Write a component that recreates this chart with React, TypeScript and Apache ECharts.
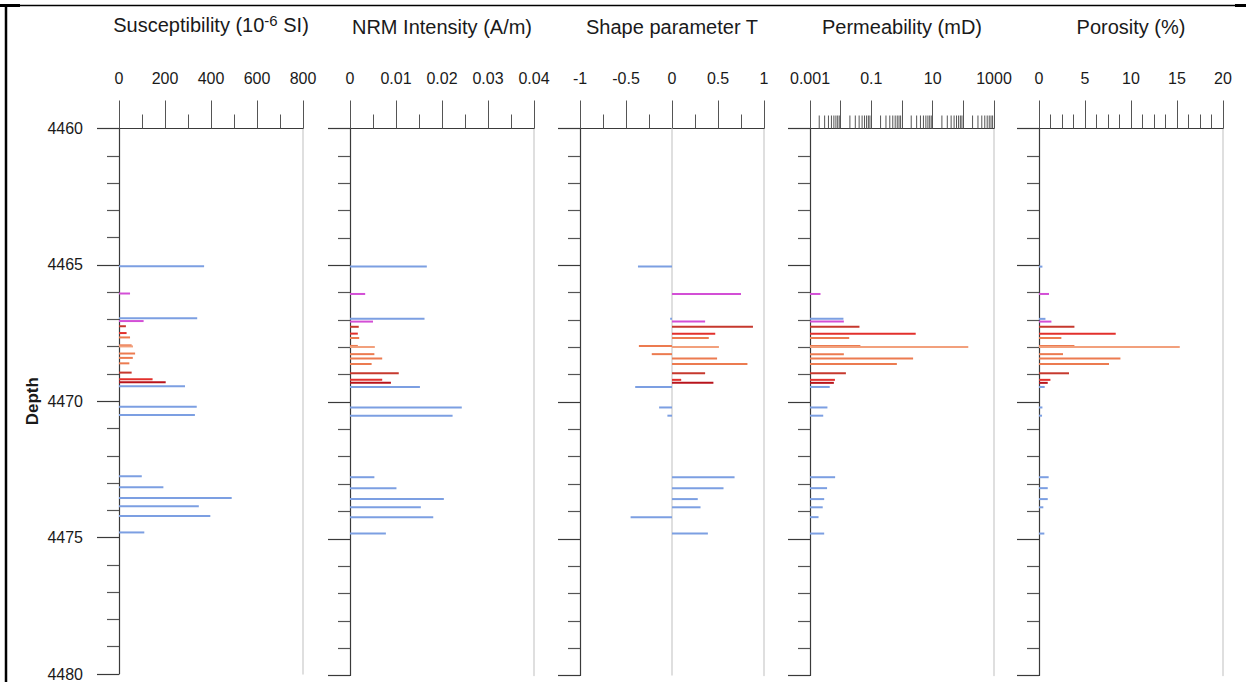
import React, { useEffect, useRef } from 'react';
import * as echarts from 'echarts';

// Sample depths (m) and the colour group of each sample
const depths = [4465.05, 4466.05, 4466.96, 4467.06, 4467.25, 4467.5, 4467.66, 4467.95, 4467.99, 4468.25, 4468.41, 4468.61, 4468.95, 4469.19, 4469.3, 4469.45, 4470.2, 4470.5, 4472.75, 4473.15, 4473.55, 4473.85, 4474.21, 4474.81];
const groups = ['blue', 'magenta', 'blue', 'magenta', 'darkred', 'red', 'orange', 'orange', 'lightorange', 'orange', 'orange', 'orange', 'darkred', 'red', 'crimson', 'blue', 'blue', 'blue', 'blue', 'blue', 'blue', 'blue', 'blue', 'blue'];

// Panel values
const susceptibility = [370, 48, 340, 107, 30, 33, 48, 55, 61, 70, 60, 45, 55, 146, 203, 287, 338, 330, 99, 193, 490, 347, 397, 110];
const nrm = [0.0167, 0.0033, 0.0162, 0.005, 0.0019, 0.0017, 0.002, 0.0017, 0.0054, 0.0053, 0.007, 0.0047, 0.0106, 0.007, 0.0089, 0.0152, 0.0243, 0.0223, 0.0053, 0.0101, 0.0204, 0.0154, 0.0181, 0.0078];
const shapeT = [-0.37, 0.75, -0.02, 0.36, 0.88, 0.47, 0.4, -0.36, 0.51, -0.22, 0.49, 0.82, 0.36, 0.1, 0.45, -0.4, -0.14, -0.05, 0.68, 0.56, 0.28, 0.31, -0.45, 0.39];
const permeability = [null, 0.0022, 0.0123, 0.0127, 0.041, 2.8, 0.019, 0.044, 145, 0.0127, 2.3, 0.68, 0.0148, 0.0065, 0.006, 0.0044, 0.0037, 0.0027, 0.0066, 0.0036, 0.0029, 0.0026, 0.0019, 0.0029];
const porosity = [0.37, 1.09, 0.7, 1.35, 3.85, 8.34, 2.43, 3.85, 15.3, 2.61, 8.85, 7.61, 3.26, 1.24, 0.95, 0.62, 0.37, 0.33, 1.05, 0.95, 0.95, 0.47, null, 0.58];

const titles = ['Susceptibility (10{sup|-6}{t| SI)}', 'NRM Intensity (A/m)', 'Shape parameter T', 'Permeability (mD)', 'Porosity (%)'];
const depthMin = 4460;
const depthMax = 4480;

const groupColors: Record<string, string> = {
  blue: '#7c9fe2',
  magenta: '#d34fd6',
  darkred: '#c6392e',
  red: '#e2302c',
  crimson: '#b8141c',
  orange: '#ec7b50',
  lightorange: '#f2a07c',
};

const FONT = '"Liberation Sans", Arial, Helvetica, sans-serif';
const TEXT = '#1a1a1a';
const AXIS = '#3a3a3a';
const TICK = '#555555';
const EDGE = '#d4d4d4';

const panelLefts = [119, 350, 580, 810, 1039];
const panelWidth = 184;
const gridTop = 128.5;
const gridHeight = 547;

export default function App() {
  const ref = useRef<HTMLDivElement>(null);
  useEffect(() => {
    if (!ref.current) return;
    const chart = echarts.init(ref.current, null, { renderer: 'svg' });

    const valuesList = [susceptibility, nrm, shapeT, permeability, porosity];
    const bases = [0, 0, 0, 0.001, 0];

    const xAxisCommon = (i: number) => ({
      gridIndex: i,
      position: 'top',
      name: titles[i],
      nameLocation: 'middle',
      nameGap: 92,
      nameTextStyle: {
        fontFamily: FONT,
        fontSize: 20,
        color: TEXT,
        rich: {
          t: { fontFamily: FONT, fontSize: 20, color: TEXT },
          sup: { fontFamily: FONT, fontSize: 15, color: TEXT, verticalAlign: 'top', padding: [0, 0, 9, 0] },
        },
      },
      axisLine: { show: true, onZero: false, lineStyle: { color: AXIS, width: 1.2 } },
      axisTick: { show: true, length: 28, lineStyle: { color: TICK, width: 1 } },
      minorTick: { show: true, length: 14, lineStyle: { color: TICK, width: 1 } },
      splitLine: { show: false },
      minorSplitLine: { show: false },
      axisLabel: { fontFamily: FONT, fontSize: 16, color: TEXT, margin: 42, showMinLabel: true, showMaxLabel: true, hideOverlap: false },
    });

    const xAxes: any[] = [
      { ...xAxisCommon(0), type: 'value', min: 0, max: 800, interval: 200, minorTick: { ...xAxisCommon(0).minorTick, splitNumber: 2 } },
      { ...xAxisCommon(1), type: 'value', min: 0, max: 0.04, interval: 0.01, minorTick: { ...xAxisCommon(1).minorTick, splitNumber: 2 } },
      { ...xAxisCommon(2), type: 'value', min: -1, max: 1, interval: 0.5, minorTick: { ...xAxisCommon(2).minorTick, splitNumber: 2 } },
      {
        ...xAxisCommon(3), type: 'log', logBase: 10, min: 0.001, max: 1000, splitNumber: 6,
        minorTick: { show: false },
        axisLabel: {
          ...xAxisCommon(3).axisLabel,
          formatter: (v: number) => {
            const e = Math.round(Math.log10(v));
            if (e % 2 === 0) return '';
            return e < 0 ? Math.pow(10, e).toFixed(-e) : String(Math.pow(10, e));
          },
        },
      },
      { ...xAxisCommon(4), type: 'value', min: 0, max: 20, interval: 5, minorTick: { ...xAxisCommon(4).minorTick, splitNumber: 4 } },
    ];

    const yAxes: any[] = [];
    for (let i = 0; i < 5; i++) {
      yAxes.push({
        type: 'value',
        gridIndex: i,
        inverse: true,
        min: depthMin,
        max: depthMax,
        interval: 5,
        position: 'left',
        name: i === 0 ? 'Depth' : '',
        nameLocation: 'middle',
        nameGap: 78,
        nameRotate: 90,
        nameTextStyle: { fontFamily: FONT, fontSize: 17, color: TEXT, fontWeight: 'bold' },
        axisLine: { show: true, onZero: false, lineStyle: { color: AXIS, width: 1.2 } },
        axisTick: { show: true, length: 22, lineStyle: { color: AXIS, width: 1.2 } },
        minorTick: { show: true, splitNumber: 5, length: 12, lineStyle: { color: TICK, width: 1.2 } },
        splitLine: { show: false },
        axisLabel: {
          show: i === 0, fontFamily: FONT, fontSize: 16, color: TEXT, margin: 36,
          showMinLabel: true, showMaxLabel: true,
          formatter: (v: number) => String(v),
        },
      });
    }
    for (let i = 0; i < 5; i++) {
      yAxes.push({
        type: 'value',
        gridIndex: i,
        inverse: true,
        min: depthMin,
        max: depthMax,
        position: 'right',
        axisLine: { show: true, onZero: false, lineStyle: { color: EDGE, width: 1.5 } },
        axisTick: { show: false },
        axisLabel: { show: false },
        splitLine: { show: false },
      });
    }

    const grids = panelLefts.map((l) => ({ left: l, width: panelWidth, top: gridTop, height: gridHeight }));

    const series: any[] = [];

    // zero reference line for the T panel
    series.push({
      type: 'custom',
      xAxisIndex: 2,
      yAxisIndex: 2,
      z: 1,
      clip: false,
      silent: true,
      data: [[0, depthMin]],
      renderItem: (params: any, api: any) => {
        const a = api.coord([0, depthMin]);
        const b = api.coord([0, depthMax]);
        return { type: 'line', shape: { x1: a[0], y1: a[1], x2: b[0], y2: b[1] }, style: { stroke: EDGE, lineWidth: 1.5 } };
      },
    });

    // log minor ticks for the permeability axis
    const logMinor: number[][] = [];
    for (let e = -3; e < 3; e++) {
      for (let k = 2; k <= 9; k++) logMinor.push([k * Math.pow(10, e), depthMin]);
    }
    series.push({
      type: 'custom',
      xAxisIndex: 3,
      yAxisIndex: 3,
      clip: false,
      silent: true,
      data: logMinor,
      renderItem: (params: any, api: any) => {
        const p = api.coord([api.value(0), depthMin]);
        return { type: 'line', shape: { x1: p[0], y1: p[1], x2: p[0], y2: p[1] - 13 }, style: { stroke: TICK, lineWidth: 1 } };
      },
    });

    valuesList.forEach((vals, i) => {
      const data: any[] = [];
      vals.forEach((v, j) => {
        if (v === null || v === undefined) return;
        data.push([v, depths[j], j]);
      });
      const base = bases[i];
      series.push({
        type: 'custom',
        xAxisIndex: i,
        yAxisIndex: i,
        z: 3,
        clip: false,
        data,
        encode: { x: 0, y: 1 },
        renderItem: (params: any, api: any) => {
          const v = api.value(0);
          const d = api.value(1);
          const idx = api.value(2);
          const a = api.coord([base, d]);
          const b = api.coord([v, d]);
          return {
            type: 'line',
            shape: { x1: a[0], y1: a[1], x2: b[0], y2: b[1] },
            style: { stroke: groupColors[groups[idx]], lineWidth: 2 },
          };
        },
      });
    });

    chart.setOption({
      animation: false,
      backgroundColor: '#ffffff',
      textStyle: { fontFamily: FONT },
      grid: grids,
      xAxis: xAxes,
      yAxis: yAxes,
      series,
      graphic: [
        {
          type: 'line',
          shape: { x1: 0, y1: 5.5, x2: 1246, y2: 5.5 },
          style: { stroke: '#000', lineWidth: 1.5 },
          silent: true,
        },
        {
          type: 'line',
          shape: { x1: 6, y1: 5, x2: 6, y2: 682 },
          style: { stroke: '#000', lineWidth: 2.5 },
          silent: true,
        },
        {
          type: 'rect',
          shape: { x: 0, y: 4, width: 20, height: 3 },
          style: { fill: '#000' },
          silent: true,
        },
        {
          type: 'rect',
          shape: { x: 1235, y: 4, width: 11, height: 3 },
          style: { fill: '#000' },
          silent: true,
        },
      ],
    });
    return () => chart.dispose();
  }, []);
  return <div ref={ref} style={{ position: 'fixed', left: 0, top: 0, width: 1246, height: 682 }} />;
}
